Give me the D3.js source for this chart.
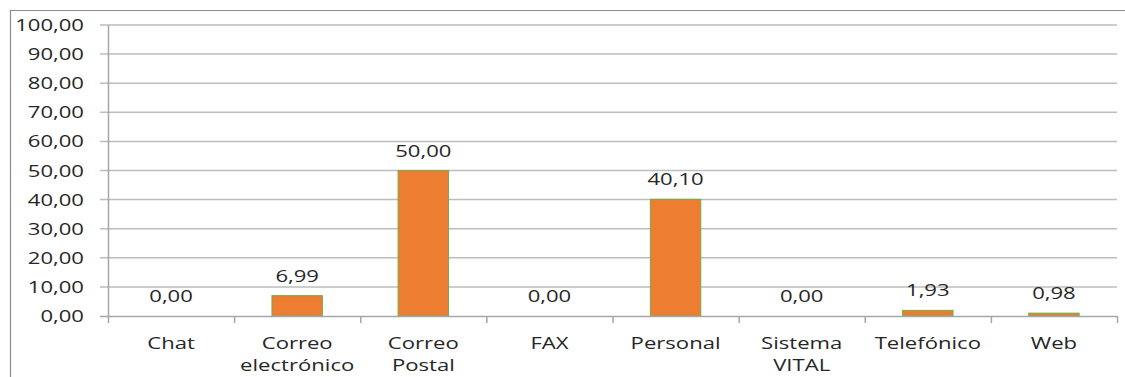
<!DOCTYPE html>
<html lang="es">
<head>
<meta charset="UTF-8">
<title>Canales</title>
<script src="https://d3js.org/d3.v7.min.js"></script>
<style>
  * { margin: 0; padding: 0; box-sizing: border-box; }
  body { background: #fff; font-family: "Open Sans", Arial, sans-serif; }
  text { fill: #262626; }
</style>
</head>
<body>
<div id="chart"></div>
<script>
  const categories = [["Chat"], ["Correo", "electrónico"], ["Correo", "Postal"], ["FAX"],
                      ["Personal"], ["Sistema", "VITAL"], ["Telefónico"], ["Web"]];
  const values = [0.00, 6.99, 50.00, 0.00, 40.10, 0.00, 1.93, 0.98];
  const yTicks = [0, 10, 20, 30, 40, 50, 60, 70, 80, 90, 100];

  const W = 1125, H = 377;
  const sx = 1.3; // texto ensanchado como en el original
  const fmt = v => d3.format(".2f")(v).replace(".", ",");

  const svg = d3.select("#chart").append("svg")
    .attr("width", W).attr("height", H);

  // marco del gráfico
  svg.append("path")
    .attr("d", `M10.5,${H + 2} V10.5 H${W + 2}`)
    .attr("fill", "none").attr("stroke", "#8c8c8c").attr("stroke-width", 1.2);

  const x = d3.scaleBand()
    .domain(d3.range(categories.length))
    .range([108, 1117])
    .paddingInner(0.6).paddingOuter(0.3);

  const y = d3.scaleLinear().domain([0, 100]).range([316, 25]);

  const step = (1117 - 108) / categories.length;

  // rejilla
  svg.append("g").selectAll("line")
    .data(yTicks.filter(d => d > 0))
    .enter().append("line")
    .attr("x1", 100).attr("x2", 1117)
    .attr("y1", d => y(d)).attr("y2", d => y(d))
    .attr("stroke", "#bdbdbd").attr("stroke-width", 1.5);

  // etiquetas eje y
  svg.append("g").selectAll("text")
    .data(yTicks)
    .enter().append("text")
    .attr("transform", d => `translate(84,${y(d) + 6}) scale(${sx},1)`)
    .attr("text-anchor", "end")
    .style("font-size", "17px")
    .text(d => fmt(d));

  // eje y
  svg.append("line")
    .attr("x1", 108.5).attr("x2", 108.5).attr("y1", 25).attr("y2", 316)
    .attr("stroke", "#a6a6a6").attr("stroke-width", 1.5);

  // barras
  svg.append("g").selectAll("rect")
    .data(values)
    .enter().append("rect")
    .attr("x", (d, i) => x(i))
    .attr("y", d => y(d))
    .attr("width", x.bandwidth())
    .attr("height", d => y(0) - y(d))
    .attr("fill", "#ed7d31")
    .attr("stroke", "#70ad47").attr("stroke-width", 1);

  // eje x
  svg.append("line")
    .attr("x1", 100).attr("x2", 1117).attr("y1", 316.5).attr("y2", 316.5)
    .attr("stroke", "#a6a6a6").attr("stroke-width", 1.5);

  svg.append("g").selectAll("line")
    .data(d3.range(categories.length + 1))
    .enter().append("line")
    .attr("x1", d => 108.5 + d * step).attr("x2", d => 108.5 + d * step)
    .attr("y1", 316).attr("y2", 323)
    .attr("stroke", "#a6a6a6").attr("stroke-width", 1.5);

  // etiquetas de valor
  svg.append("g").selectAll("text")
    .data(values)
    .enter().append("text")
    .attr("transform", (d, i) => `translate(${x(i) + x.bandwidth() / 2},${y(d) - 14}) scale(${sx},1)`)
    .attr("text-anchor", "middle")
    .style("font-size", "17px")
    .text(d => fmt(d));

  // etiquetas de categoría
  const cat = svg.append("g").selectAll("g")
    .data(categories)
    .enter().append("g");

  cat.selectAll("text")
    .data((d, i) => d.map((t, j) => ({ t, j, i })))
    .enter().append("text")
    .attr("transform", d => `translate(${x(d.i) + x.bandwidth() / 2},${349 + d.j * 22}) scale(${sx},1)`)
    .attr("text-anchor", "middle")
    .style("font-size", "17px")
    .text(d => d.t);
</script>
</body>
</html>
